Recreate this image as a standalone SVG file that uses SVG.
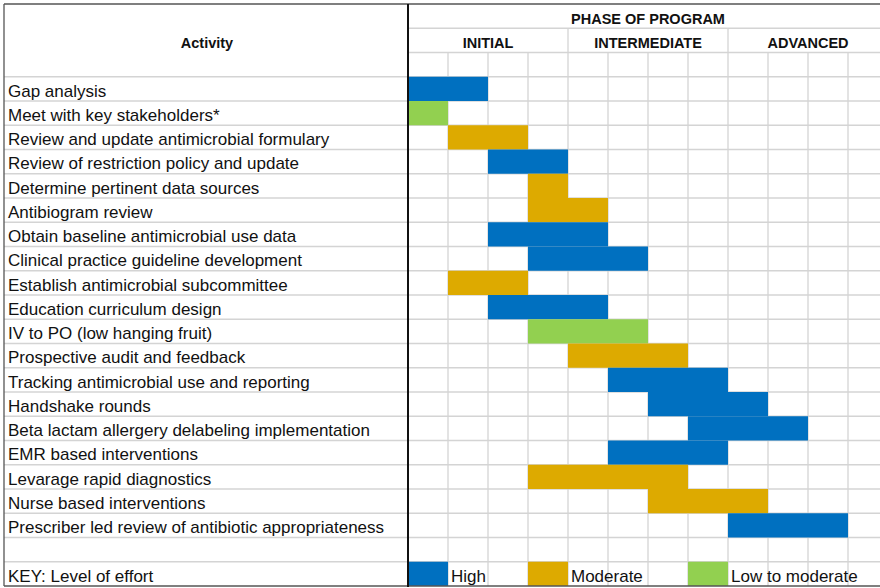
<svg xmlns="http://www.w3.org/2000/svg" width="880" height="588" viewBox="0 0 880 588">
  <style>
    .bg { fill: #ffffff; }
    .grid { stroke: #d4d4d4; stroke-width: 1.3; fill: none; }
    .frame { stroke: #555555; stroke-width: 1.3; fill: none; }
    .divider { stroke: #111111; stroke-width: 2; }
    .hdr { font-family: "Liberation Sans", Arial, sans-serif; font-weight: bold; font-size: 14.5px; fill: #111111; text-anchor: middle; }
    .lbl { font-family: "Liberation Sans", Arial, sans-serif; font-size: 17px; fill: #111111; }
    .high { fill: #0070c0; }
    .mod { fill: #ddaa00; }
    .low { fill: #92d050; }
  </style>

  <rect class="bg" x="0" y="0" width="880" height="588"/>

  <!-- grid lines -->
  <g id="grid">
    <!-- header rows, phase area only -->
    <line class="grid" x1="408" y1="28.25" x2="880" y2="28.25"/>
    <line class="grid" x1="408" y1="52.5" x2="880" y2="52.5"/>
    <line class="grid" x1="568" y1="28.25" x2="568" y2="52.5"/>
    <line class="grid" x1="728" y1="28.25" x2="728" y2="52.5"/>
    <!-- row separators -->
    <line class="grid" x1="4" y1="76.75" x2="880" y2="76.75"/>
    <line class="grid" x1="4" y1="101" x2="880" y2="101"/>
    <line class="grid" x1="4" y1="125.25" x2="880" y2="125.25"/>
    <line class="grid" x1="4" y1="149.5" x2="880" y2="149.5"/>
    <line class="grid" x1="4" y1="173.75" x2="880" y2="173.75"/>
    <line class="grid" x1="4" y1="198" x2="880" y2="198"/>
    <line class="grid" x1="4" y1="222.25" x2="880" y2="222.25"/>
    <line class="grid" x1="4" y1="246.5" x2="880" y2="246.5"/>
    <line class="grid" x1="4" y1="270.75" x2="880" y2="270.75"/>
    <line class="grid" x1="4" y1="295" x2="880" y2="295"/>
    <line class="grid" x1="4" y1="319.25" x2="880" y2="319.25"/>
    <line class="grid" x1="4" y1="343.5" x2="880" y2="343.5"/>
    <line class="grid" x1="4" y1="367.75" x2="880" y2="367.75"/>
    <line class="grid" x1="4" y1="392" x2="880" y2="392"/>
    <line class="grid" x1="4" y1="416.25" x2="880" y2="416.25"/>
    <line class="grid" x1="4" y1="440.5" x2="880" y2="440.5"/>
    <line class="grid" x1="4" y1="464.75" x2="880" y2="464.75"/>
    <line class="grid" x1="4" y1="489" x2="880" y2="489"/>
    <line class="grid" x1="4" y1="513.25" x2="880" y2="513.25"/>
    <line class="grid" x1="4" y1="537.5" x2="880" y2="537.5"/>
    <line class="grid" x1="4" y1="561.75" x2="880" y2="561.75"/>
    <!-- column separators -->
    <line class="grid" x1="448" y1="52.5" x2="448" y2="586"/>
    <line class="grid" x1="488" y1="52.5" x2="488" y2="586"/>
    <line class="grid" x1="528" y1="52.5" x2="528" y2="586"/>
    <line class="grid" x1="568" y1="52.5" x2="568" y2="586"/>
    <line class="grid" x1="608" y1="52.5" x2="608" y2="586"/>
    <line class="grid" x1="648" y1="52.5" x2="648" y2="586"/>
    <line class="grid" x1="688" y1="52.5" x2="688" y2="586"/>
    <line class="grid" x1="728" y1="52.5" x2="728" y2="586"/>
    <line class="grid" x1="768" y1="52.5" x2="768" y2="586"/>
    <line class="grid" x1="808" y1="52.5" x2="808" y2="586"/>
    <line class="grid" x1="848" y1="52.5" x2="848" y2="586"/>
  </g>

  <!-- header -->
  <g id="header">
    <text class="hdr" x="207" y="48">Activity</text>
    <text class="hdr" x="648" y="23.5">PHASE OF PROGRAM</text>
    <text class="hdr" x="488" y="47.5">INITIAL</text>
    <text class="hdr" x="648" y="47.5">INTERMEDIATE</text>
    <text class="hdr" x="808" y="47.5">ADVANCED</text>
  </g>

  <!-- activity rows: label and effort bar -->
  <g id="gap-analysis">
    <text class="lbl" x="8" y="96.5">Gap analysis</text>
    <rect class="high" x="408" y="76.75" width="80" height="24.25"/>
  </g>
  <g id="stakeholders">
    <text class="lbl" x="8" y="120.75">Meet with key stakeholders*</text>
    <rect class="low" x="408" y="101" width="40" height="24.25"/>
  </g>
  <g id="formulary">
    <text class="lbl" x="8" y="145">Review and update antimicrobial formulary</text>
    <rect class="mod" x="448" y="125.25" width="80" height="24.25"/>
  </g>
  <g id="restriction-policy">
    <text class="lbl" x="8" y="169.25">Review of restriction policy and update</text>
    <rect class="high" x="488" y="149.5" width="80" height="24.25"/>
  </g>
  <g id="data-sources">
    <text class="lbl" x="8" y="193.5">Determine pertinent data sources</text>
    <rect class="mod" x="528" y="173.75" width="40" height="24.25"/>
  </g>
  <g id="antibiogram">
    <text class="lbl" x="8" y="217.75">Antibiogram review</text>
    <rect class="mod" x="528" y="198" width="80" height="24.25"/>
  </g>
  <g id="baseline-data">
    <text class="lbl" x="8" y="242">Obtain baseline antimicrobial use data</text>
    <rect class="high" x="488" y="222.25" width="120" height="24.25"/>
  </g>
  <g id="guideline">
    <text class="lbl" x="8" y="266.25">Clinical practice guideline development</text>
    <rect class="high" x="528" y="246.5" width="120" height="24.25"/>
  </g>
  <g id="subcommittee">
    <text class="lbl" x="8" y="290.5">Establish antimicrobial subcommittee</text>
    <rect class="mod" x="448" y="270.75" width="80" height="24.25"/>
  </g>
  <g id="curriculum">
    <text class="lbl" x="8" y="314.75">Education curriculum design</text>
    <rect class="high" x="488" y="295" width="120" height="24.25"/>
  </g>
  <g id="iv-to-po">
    <text class="lbl" x="8" y="339">IV to PO (low hanging fruit)</text>
    <rect class="low" x="528" y="319.25" width="120" height="24.25"/>
  </g>
  <g id="audit-feedback">
    <text class="lbl" x="8" y="363.25">Prospective audit and feedback</text>
    <rect class="mod" x="568" y="343.5" width="120" height="24.25"/>
  </g>
  <g id="tracking">
    <text class="lbl" x="8" y="387.5">Tracking antimicrobial use and reporting</text>
    <rect class="high" x="608" y="367.75" width="120" height="24.25"/>
  </g>
  <g id="handshake">
    <text class="lbl" x="8" y="411.75">Handshake rounds</text>
    <rect class="high" x="648" y="392" width="120" height="24.25"/>
  </g>
  <g id="delabeling">
    <text class="lbl" x="8" y="436">Beta lactam allergery delabeling implementation</text>
    <rect class="high" x="688" y="416.25" width="120" height="24.25"/>
  </g>
  <g id="emr">
    <text class="lbl" x="8" y="460.25">EMR based interventions</text>
    <rect class="high" x="608" y="440.5" width="120" height="24.25"/>
  </g>
  <g id="rapid-diagnostics">
    <text class="lbl" x="8" y="484.5">Levarage rapid diagnostics</text>
    <rect class="mod" x="528" y="464.75" width="160" height="24.25"/>
  </g>
  <g id="nurse">
    <text class="lbl" x="8" y="508.75">Nurse based interventions</text>
    <rect class="mod" x="648" y="489" width="120" height="24.25"/>
  </g>
  <g id="prescriber-review">
    <text class="lbl" x="8" y="533">Prescriber led review of antibiotic appropriateness</text>
    <rect class="high" x="728" y="513.25" width="120" height="24.25"/>
  </g>

  <!-- key -->
  <g id="key">
    <text class="lbl" x="8" y="581.5">KEY: Level of effort</text>
    <rect class="high" x="408" y="561.75" width="40" height="24.25"/>
    <text class="lbl" x="451" y="581.5">High</text>
    <rect class="mod" x="528" y="561.75" width="40" height="24.25"/>
    <text class="lbl" x="571" y="581.5">Moderate</text>
    <rect class="low" x="688" y="561.75" width="40" height="24.25"/>
    <text class="lbl" x="731" y="581.5">Low to moderate</text>
  </g>

  <!-- outer frame and activity/phase divider -->
  <g id="frame">
    <line class="frame" x1="4" y1="4" x2="880" y2="4"/>
    <line class="frame" x1="4" y1="4" x2="4" y2="586"/>
    <line class="frame" x1="4" y1="586" x2="880" y2="586"/>
    <line class="divider" x1="408" y1="4" x2="408" y2="587"/>
  </g>
</svg>
